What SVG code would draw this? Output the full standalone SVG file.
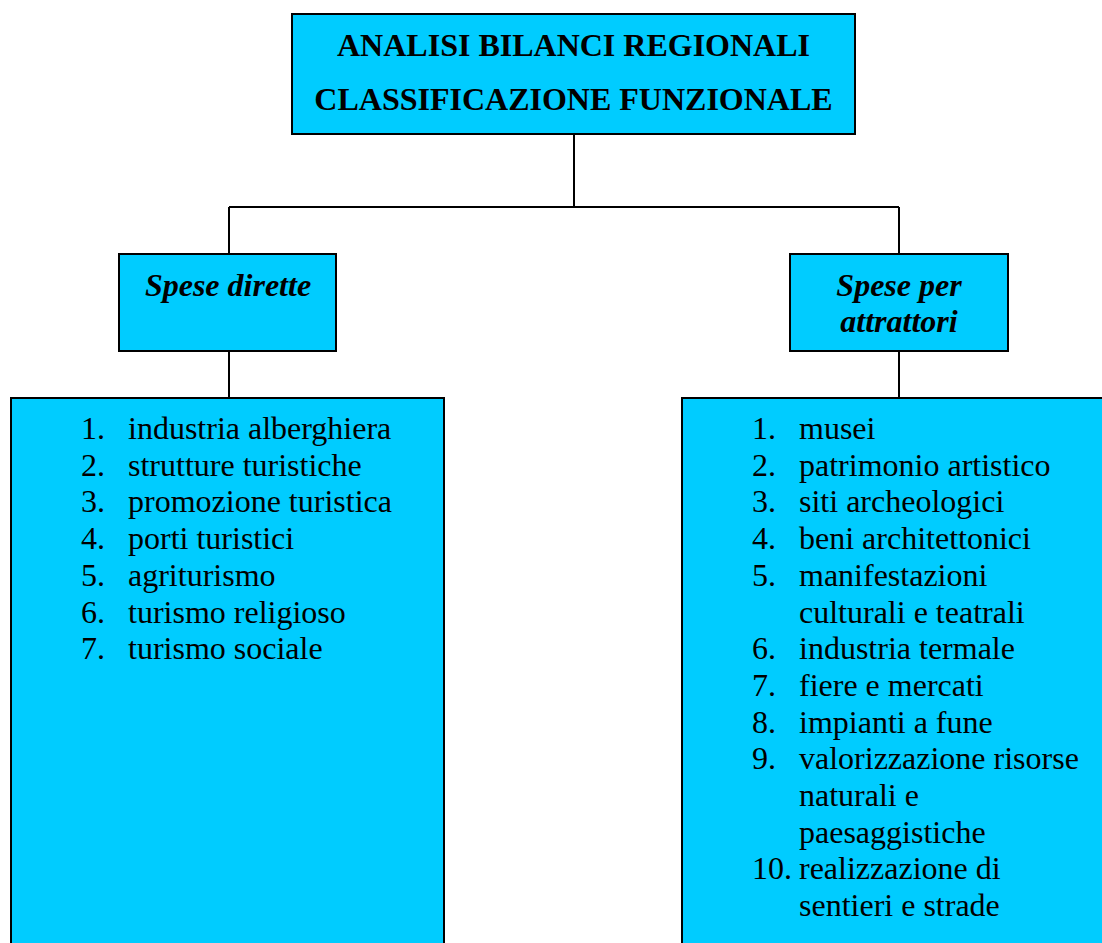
<svg xmlns="http://www.w3.org/2000/svg" width="1102" height="943" viewBox="0 0 1102 943">
<style>
.box{fill:#00CCFF;stroke:#000;stroke-width:2}
.t{font-family:"Liberation Serif","Times New Roman",serif;font-size:32px;fill:#000}
.b{font-weight:bold}
.bi{font-weight:bold;font-style:italic}
.c{text-anchor:middle}
.ln{fill:none;stroke:#000;stroke-width:2}
</style>
<rect width="1102" height="943" fill="#fff"/>
<g id="connectors">
<path class="ln" d="M574 134V207M229 207H899M229 207V254M899 207V254M229 351V398M899 351V398"/>
</g>
<g id="root">
<rect class="box" x="292" y="14" width="563" height="120"/>
<text class="t b c" x="573.5" y="56">ANALISI BILANCI REGIONALI</text>
<text class="t b c" x="573.5" y="110">CLASSIFICAZIONE FUNZIONALE</text>
</g>
<g id="spese-dirette">
<rect class="box" x="119" y="254" width="217" height="97"/>
<text class="t bi c" x="228" y="296">Spese dirette</text>
</g>
<g id="spese-attrattori">
<rect class="box" x="790" y="254" width="218" height="97"/>
<text class="t bi c" x="899" y="296">Spese per</text>
<text class="t bi c" x="899" y="332">attrattori</text>
</g>
<g id="lista-dirette">
<rect class="box" x="11" y="398" width="433" height="560"/>
<g class="t">
<text x="81" y="439">1.</text><text x="128" y="439">industria alberghiera</text>
<text x="81" y="475.7">2.</text><text x="128" y="475.7">strutture turistiche</text>
<text x="81" y="512.4">3.</text><text x="128" y="512.4">promozione turistica</text>
<text x="81" y="549.1">4.</text><text x="128" y="549.1">porti turistici</text>
<text x="81" y="585.8">5.</text><text x="128" y="585.8">agriturismo</text>
<text x="81" y="622.5">6.</text><text x="128" y="622.5">turismo religioso</text>
<text x="81" y="659.2">7.</text><text x="128" y="659.2">turismo sociale</text>
</g>
</g>
<g id="lista-attrattori">
<rect class="box" x="682" y="398" width="440" height="560"/>
<g class="t">
<text x="752" y="439">1.</text><text x="799" y="439">musei</text>
<text x="752" y="475.7">2.</text><text x="799" y="475.7">patrimonio artistico</text>
<text x="752" y="512.4">3.</text><text x="799" y="512.4">siti archeologici</text>
<text x="752" y="549.1">4.</text><text x="799" y="549.1">beni architettonici</text>
<text x="752" y="585.8">5.</text><text x="799" y="585.8">manifestazioni</text>
<text x="799" y="622.5">culturali e teatrali</text>
<text x="752" y="659.2">6.</text><text x="799" y="659.2">industria termale</text>
<text x="752" y="695.9">7.</text><text x="799" y="695.9">fiere e mercati</text>
<text x="752" y="732.6">8.</text><text x="799" y="732.6">impianti a fune</text>
<text x="752" y="769.3">9.</text><text x="799" y="769.3">valorizzazione risorse</text>
<text x="799" y="806">naturali e</text>
<text x="799" y="842.7">paesaggistiche</text>
<text x="752" y="879.4">10.</text><text x="799" y="879.4">realizzazione di</text>
<text x="799" y="916.1">sentieri e strade</text>
</g>
</g>
</svg>
